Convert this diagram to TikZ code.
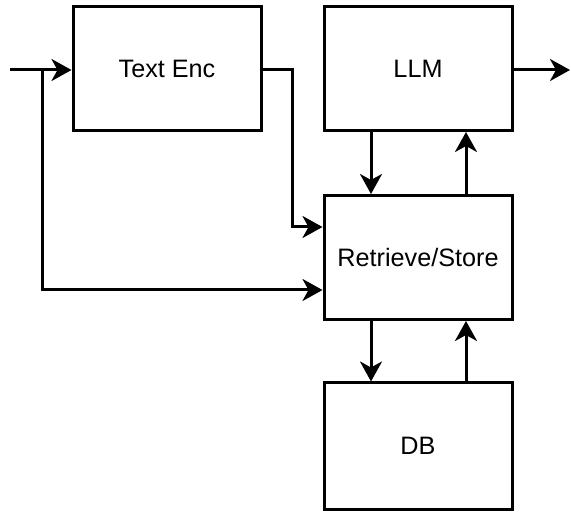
\documentclass[tikz,border=0pt]{standalone}
\usepackage{fontspec}
\setmainfont{Liberation Sans}
\usetikzlibrary{arrows.meta,calc}
\begin{document}
\begin{tikzpicture}[x=1pt,y=-1pt,
  blockbox/.style={draw=black,line width=3pt,fill=white,minimum width=188pt,minimum height=124pt,inner sep=0pt,font=\fontsize{25.2}{30}\selectfont},
  arr/.style={line width=3pt,-{Stealth[length=20pt,width=22pt,inset=6pt]}},
  ln/.style={line width=3pt}]
\useasboundingbox (0,0) rectangle (571,513);
\node[blockbox] (te) at (167,68.5) {Text Enc};
\node[blockbox] (llm) at (418,68.5) {LLM};
\node[blockbox] (rs) at (418,257.5) {Retrieve/Store};
\node[blockbox,minimum height=126pt] (db) at (418,446) {DB};
\coordinate (in) at (10,70);
\coordinate (br) at (42,70);
\coordinate (tc) at (292,70);
\coordinate (out) at (570,70);
\draw[arr] (in) -- (te.west |- in);
\draw[arr] (br) |- ($(rs.west)+(0,32.5)$);
\draw[arr] (te.east |- tc) -- (tc) |- ($(rs.west)+(0,-30.5)$);
\draw[arr] (llm.east |- out) -- (out);
\draw[arr] ($(llm.south)+(-47,0)$) -- ($(rs.north)+(-47,0)$);
\draw[arr] ($(rs.north)+(48,0)$) -- ($(llm.south)+(48,0)$);
\draw[arr] ($(rs.south)+(-47,0)$) -- ($(db.north)+(-47,0)$);
\draw[arr] ($(db.north)+(48,0)$) -- ($(rs.south)+(48,0)$);
\end{tikzpicture}
\end{document}
